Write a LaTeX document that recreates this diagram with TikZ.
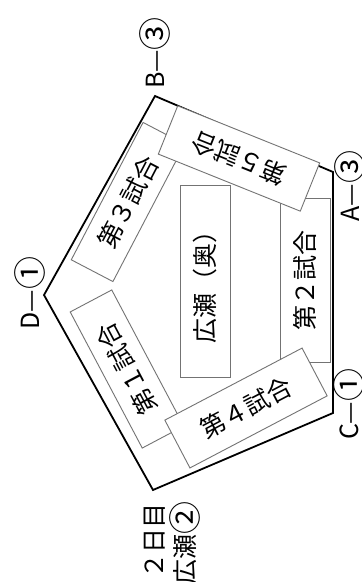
\documentclass[tikz,border=0pt]{standalone}
\usepackage{fontspec}
\newfontfamily\jp{Noto Sans CJK JP}
\newcommand{\circnum}[1]{\raisebox{-3.5pt}{\fontsize{33}{33}\selectfont #1}}
\begin{document}
\begin{tikzpicture}[x=1pt,y=-1pt,
  game/.style={draw=black!55, line width=0.9pt, fill=white, inner sep=0pt, outer sep=0pt,
    font=\jp\fontsize{25}{25}\selectfont, text=black},
  lab/.style={rotate=90, inner sep=0pt, text height=18pt, text depth=0pt,
    font=\jp\fontsize{25}{25}\selectfont}]
\useasboundingbox[fill=white] (0,0) rectangle (362,582);
% outer pentagon
\coordinate (B) at (155,96);
\coordinate (A) at (333,172);
\coordinate (C) at (333,413);
\coordinate (E) at (153,490);
\coordinate (D) at (44,295);
\draw[line width=1.8pt, line join=miter] (B) -- (A) -- (C) -- (E) -- (D) -- cycle;
% boxes
\node[game, rotate=90, minimum width=164pt, minimum height=50pt] (g2) at (305,280) {第２試合};
\node[game, rotate=62.4, minimum width=155pt, minimum height=47pt] (g3) at (128,202) {第３試合};
\node[game, rotate=117.9, minimum width=154pt, minimum height=47pt] (g1) at (127,369) {第１試合};
\node[game, rotate=158.1, minimum width=153pt, minimum height=52pt] (g5) at (239,158.5) {第５試合};
\node[game, rotate=27.7, minimum width=155pt, minimum height=54pt] (g4) at (246,408) {第４試合};
\node[game, rotate=90, minimum width=192pt, minimum height=50pt] (hir) at (205,281) {広瀬（奥）};
% labels
\node[lab] (lb) at (155,53) {B—\circnum{③}};
\node[lab] (la) at (350,186) {A—\circnum{③}};
\node[lab] (lc) at (349,404) {C—\circnum{①}};
\node[lab] (ld) at (30,293) {D—\circnum{①}};
\node[lab] (day) at (154,541) {２日目};
\node[lab] (hs) at (185,543) {広瀬\circnum{②}};
\end{tikzpicture}
\end{document}
